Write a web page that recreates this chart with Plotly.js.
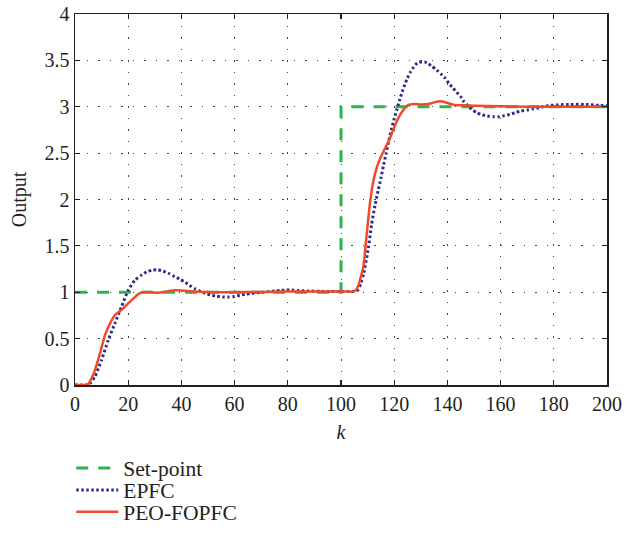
<!DOCTYPE html>
<html>
<head>
<meta charset="utf-8">
<script src="https://cdn.plot.ly/plotly-3.0.1.min.js"></script>
<style>html,body{margin:0;padding:0;background:#fff;}#chart{width:634px;height:542px;}</style>
</head>
<body>
<div id="chart"></div>
<script>
// Set-point
const spK = [0, 100, 100, 200];
const spY = [1, 1, 3, 3];

// EPFC
const epfcK = [0,4,5,6,7.5,10,12.5,15,17.5,20,22.5,25,27,29,31,33,35,37.5,39.5,41.5,43,45,47,49,51,53,55.5,57.5,60,62,64,66.5,68.5,71,73,75,77.5,79.5,81.5,84,86,88,92,96,100,104,105.5,106.5,107.5,108.5,110.3,111.5,112.8,114,115,116,117,118,119,120,121,122,123,124,125,126,127,128,129,130.5,131.5,132.5,134,136,137.6,139.2,140.6,142,143.5,145,146,147.5,149,151,153,155,157.5,159.5,161.5,163.5,165.5,167.5,170,172,174,177,181,186,192,197,200];
const epfcY = [0,0,0.005,0.03,0.09,0.27,0.485,0.665,0.845,1.02,1.13,1.186,1.22,1.238,1.242,1.23,1.207,1.168,1.14,1.107,1.075,1.04,1.012,0.988,0.97,0.958,0.95,0.948,0.955,0.968,0.978,0.987,0.995,1.0,1.007,1.014,1.02,1.024,1.024,1.02,1.016,1.013,1.01,1.008,1.008,1.008,1.01,1.03,1.1,1.2,1.48,1.73,1.94,2.1,2.23,2.37,2.5,2.64,2.76,2.87,2.97,3.07,3.16,3.24,3.31,3.37,3.415,3.455,3.475,3.486,3.484,3.468,3.44,3.396,3.353,3.307,3.25,3.206,3.156,3.11,3.062,3.019,2.976,2.936,2.914,2.9,2.893,2.893,2.904,2.918,2.936,2.954,2.965,2.976,2.987,3.008,3.02,3.025,3.025,3.015,3.01];

// PEO-FOPFC
const peoK = [0,4,5,6,7.5,9.4,11.3,13.2,15,17.5,20,22.6,24,25.7,28,30,32,35,37.5,40,43,47,52,60,70,80,90,100,104.5,105.5,106.5,107.5,108.4,109.7,110.9,112.1,113.5,115.3,116.9,118.4,119.9,121.5,123.4,125.3,127.8,130.3,132.8,135.3,137.2,139.7,142.2,146,150,160,170,200];
const peoY = [0,0,0.01,0.06,0.16,0.34,0.54,0.665,0.755,0.81,0.88,0.95,0.985,1.0,1.003,0.995,0.997,1.012,1.022,1.02,1.012,1.005,1.0,1.0,1.003,1.008,1.008,1.008,1.008,1.02,1.07,1.17,1.276,1.635,1.96,2.19,2.35,2.48,2.57,2.66,2.77,2.875,2.965,3.019,3.03,3.025,3.03,3.05,3.058,3.044,3.022,3.015,3.01,3.005,3.0,3.0];

const xTicks = [0,20,40,60,80,100,120,140,160,180,200];
const yTicks = [0,0.5,1,1.5,2,2.5,3,3.5,4];

const fam = '"Liberation Serif", "DejaVu Serif", serif';
const tickFont = {family: fam, size: 20, color: '#231f20'};
const legFont = {family: fam, size: 21.5, color: '#231f20'};

const traces = [
  {x: spK, y: spY, type: 'scatter', mode: 'lines', name: 'Set-point', legend: 'legend',
   line: {color: '#2db34a', width: 3, dash: '12px,10px'}},
  {x: epfcK, y: epfcY, type: 'scatter', mode: 'lines', name: 'EPFC', legend: 'legend2',
   line: {color: '#2e2a8c', width: 3, dash: '2.5px,2.5px', shape: 'spline', smoothing: 0.6}},
  {x: peoK, y: peoY, type: 'scatter', mode: 'lines', name: 'PEO-FOPFC', legend: 'legend3',
   line: {color: '#f04a2b', width: 2.5, shape: 'spline', smoothing: 0.6}}
];

const axisCommon = {
  showline: true, linecolor: '#231f20', linewidth: 1.5, mirror: 'ticks',
  ticks: 'inside', ticklen: 5, tickwidth: 1.2, tickcolor: '#231f20',
  showgrid: true, gridcolor: '#444', gridwidth: 1, griddash: '1.5px,10px',
  zeroline: false, tickfont: tickFont, automargin: false
};

const legCommon = {x: -0.007, xanchor: 'left', yanchor: 'middle', orientation: 'v',
  font: legFont, bgcolor: 'rgba(0,0,0,0)', itemwidth: 42};

const layout = {
  width: 634, height: 542,
  margin: {l: 75, r: 27, t: 14, b: 157, autoexpand: false},
  paper_bgcolor: '#fff', plot_bgcolor: '#fff',
  font: tickFont,
  showlegend: true,
  legend: Object.assign({}, legCommon, {y: -0.2237}),
  legend2: Object.assign({}, legCommon, {y: -0.283}),
  legend3: Object.assign({}, legCommon, {y: -0.342}),
  xaxis: Object.assign({}, axisCommon, {
    range: [0, 200], tickvals: xTicks, ticktext: xTicks.map(String),
    title: {text: '<i>k</i>', font: tickFont, standoff: 11}
  }),
  yaxis: Object.assign({}, axisCommon, {
    range: [0, 4], tickvals: yTicks, ticktext: yTicks.map(String),
    title: {text: 'Output', font: tickFont, standoff: 12}
  })
};

Plotly.newPlot('chart', traces, layout, {displayModeBar: false, staticPlot: true});
</script>
</body>
</html>
